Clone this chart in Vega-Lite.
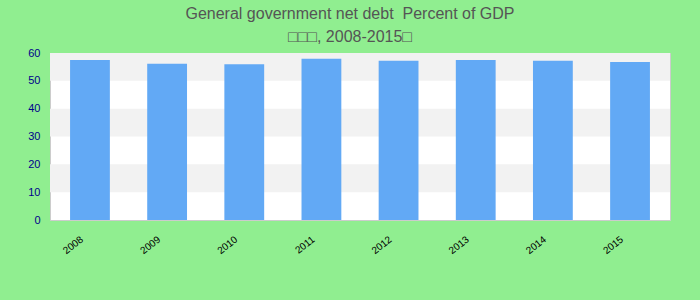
{
  "$schema": "https://vega.github.io/schema/vega-lite/v6.json",
  "width": 620,
  "height": 167,
  "autosize": {"type": "none"},
  "padding": {"left": 50, "top": 53, "right": 30, "bottom": 80},
  "background": "#90EE90",
  "title": {
    "text": ["General government net debt \u00a0Percent of GDP", "□□□, 2008-2015□"],
    "anchor": "middle",
    "frame": "group",
    "dx": -10,
    "font": "Liberation Sans",
    "fontSize": 16,
    "fontWeight": "normal",
    "color": "#555555",
    "lineHeight": 23,
    "offset": 2
  },
  "datasets": {
    "bands": [
      {"lo": 10, "hi": 20},
      {"lo": 30, "hi": 40},
      {"lo": 50, "hi": 60}
    ],
    "debt": [
      {"year": "2008", "value": 57.5},
      {"year": "2009", "value": 56.1},
      {"year": "2010", "value": 56.0},
      {"year": "2011", "value": 57.9},
      {"year": "2012", "value": 57.2},
      {"year": "2013", "value": 57.5},
      {"year": "2014", "value": 57.2},
      {"year": "2015", "value": 56.8}
    ]
  },
  "config": {
    "view": {"fill": "white", "stroke": "#cccccc", "strokeWidth": 1},
    "font": "Liberation Sans",
    "axisY": {
      "title": null,
      "domain": false,
      "ticks": false,
      "grid": false,
      "labelOverlap": false,
      "labelColor": "#00008b",
      "labelFontSize": 11,
      "labelPadding": 10
    }
  },
  "layer": [
    {
      "data": {"name": "bands"},
      "mark": {"type": "rect", "color": "#f2f2f2"},
      "encoding": {
        "y": {
          "field": "lo",
          "type": "quantitative",
          "scale": {"domain": [0, 60], "nice": false},
          "axis": {"values": [0, 10, 20, 30, 40, 50, 60], "title": null}
        },
        "y2": {"field": "hi"}
      }
    },
    {
      "data": {"name": "debt"},
      "mark": {"type": "bar", "color": "#62a9f5"},
      "encoding": {
        "x": {
          "field": "year",
          "type": "nominal",
          "scale": {"paddingInner": 0.484, "paddingOuter": 0.26},
          "axis": {
            "title": null,
            "domain": false,
            "ticks": false,
            "labelAngle": -38,
            "labelAlign": "right",
            "labelBaseline": "top",
            "labelFontSize": 10,
            "labelColor": "#000000",
            "labelPadding": 14,
            "labelOffset": -11,
            "labelOverlap": false
          }
        },
        "y": {
          "field": "value",
          "type": "quantitative",
          "scale": {"domain": [0, 60], "nice": false},
          "axis": {"values": [0, 10, 20, 30, 40, 50, 60], "title": null}
        }
      }
    }
  ]
}
